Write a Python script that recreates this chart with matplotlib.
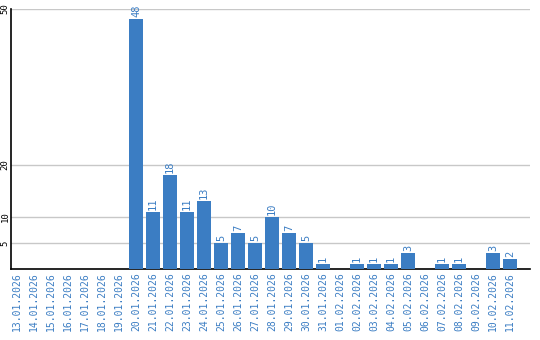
import matplotlib
matplotlib.use("Agg")
import matplotlib.pyplot as plt
import numpy as np

# data
dates = ["13.01.2026", "14.01.2026", "15.01.2026", "16.01.2026", "17.01.2026",
         "18.01.2026", "19.01.2026", "20.01.2026", "21.01.2026", "22.01.2026",
         "23.01.2026", "24.01.2026", "25.01.2026", "26.01.2026", "27.01.2026",
         "28.01.2026", "29.01.2026", "30.01.2026", "31.01.2026", "01.02.2026",
         "02.02.2026", "03.02.2026", "04.02.2026", "05.02.2026", "06.02.2026",
         "07.02.2026", "08.02.2026", "09.02.2026", "10.02.2026", "11.02.2026"]
counts = [0, 0, 0, 0, 0, 0, 0, 48, 11, 18, 11, 13, 5, 7, 5, 10, 7, 5, 1, 0,
          1, 1, 1, 3, 0, 1, 1, 0, 3, 2]
yticks = [5, 10, 20, 50]

blue = "#3b7dc3"
font = "DejaVu Sans Mono"

fig = plt.figure(figsize=(5.4, 3.4), dpi=100)
ax = fig.add_axes([11 / 540, 1 - 269 / 340, 519 / 540, 260 / 340])

x = np.arange(len(dates))
ax.bar(x, counts, width=0.82, color=blue, zorder=3)

# value labels above the bars (zero days left empty)
for xi, v in zip(x, counts):
    if v > 0:
        ax.text(xi, v + 0.4, str(v), rotation=90, ha="center", va="bottom",
                color=blue, fontsize=7.5, family=font, zorder=4)

ax.set_xlim(-0.35, len(dates) + 0.18)
ax.set_ylim(0, 50)
ax.set_yticks(yticks)
ax.set_yticklabels([str(t) for t in yticks], rotation=90, va="center",
                   family=font, fontsize=6.5)
ax.set_xticks(x)
ax.set_xticklabels(dates, rotation=90, family=font, fontsize=7, color=blue)
ax.tick_params(axis="both", length=0, pad=2)
ax.tick_params(axis="y", pad=1)

ax.grid(axis="y", color="#c8c8c8", linewidth=1, zorder=0)
for s in ["top", "right"]:
    ax.spines[s].set_visible(False)
ax.spines["left"].set_linewidth(1.2)
ax.spines["bottom"].set_linewidth(1.2)

plt.savefig("out.png", dpi=100)
